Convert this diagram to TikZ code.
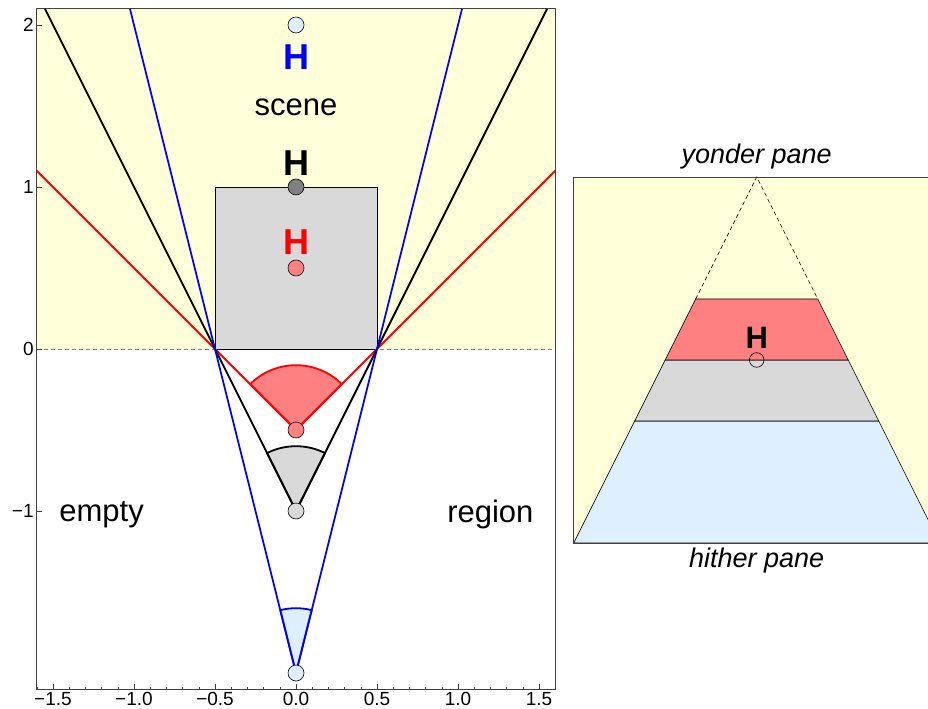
\documentclass[tikz,border=0pt]{standalone}
\usepackage{fontspec}
\setmainfont{Liberation Sans}
\definecolor{paleyellow}{rgb}{1,1,0.85}
\definecolor{palegray}{gray}{0.85}
\definecolor{paleblue}{rgb}{0.87,0.94,1}
\definecolor{palered}{rgb}{1,0.5,0.5}
\tikzset{
  ray/.style={line width=1.8pt,line join=miter},
  edge/.style={line width=0.6pt},
  dot/.style={circle,draw,line width=0.6pt,inner sep=0pt,minimum size=16pt},
  lab/.style={font=\fontsize{31}{36}\selectfont},
  hlab/.style={font=\fontsize{36}{40}\selectfont\bfseries},
  pane/.style={font=\fontsize{27}{32}\selectfont\itshape},
  ticklab/.style={font=\fontsize{19}{22}\selectfont,inner sep=3pt}
}
\begin{document}
\begin{tikzpicture}[x=162pt,y=162pt]
\useasboundingbox (-1.8272,-2.2222) rectangle (3.9012,2.1543);
\begin{scope}
\clip (-1.6,-2.1) rectangle (1.6,2.1);
\fill[paleyellow] (-1.6,0) rectangle (1.6,2.1);
\draw[gray,dash pattern=on 4pt off 3pt,edge] (-1.6,0) -- (1.6,0);
\draw[edge,fill=palegray] (-0.5,0) rectangle (0.5,1);
\filldraw[ray,fill=palered,draw=red] (0,-0.5) -- ++(45:0.4) arc[start angle=45,end angle=135,radius=0.4] -- cycle;
\filldraw[ray,fill=palegray,draw=black] (0,-1) -- ++(63.43:0.4) arc[start angle=63.43,end angle=116.57,radius=0.4] -- cycle;
\filldraw[ray,fill=paleblue,draw=blue] (0,-2) -- ++(75.96:0.4) arc[start angle=75.96,end angle=104.04,radius=0.4] -- cycle;
\draw[ray,red] (-1.6,1.1) -- (0,-0.5) -- (1.6,1.1);
\draw[ray,black] (-1.55,2.1) -- (0,-1) -- (1.55,2.1);
\draw[ray,blue] (-1.025,2.1) -- (0,-2) -- (1.025,2.1);
\end{scope}
\foreach \y/\c/\n in {2/paleblue/a,1/gray/b,0.5/palered/c,-0.5/palered/d,-1/palegray/e,-2/paleblue/f}
  \node[dot,fill=\c] (eye\n) at (0,\y) {};
\node[hlab,blue] (Hblue) at (0,1.8) {H};
\node[lab] (scene) at (0,1.49) {scene};
\node[hlab] (Hblack) at (0,1.15) {H};
\node[hlab,red] (Hred) at (0,0.66) {H};
\node[lab] (empty) at (-1.2,-1.02) {empty};
\node[lab] (region) at (1.2,-1.02) {region};
\draw[black!75,line width=0.8pt] (-1.6,-2.1) rectangle (1.6,2.1);
\foreach \x in {-1.6,-1.5,...,1.6}
  \draw[black!75,edge] (\x,-2.1) -- ++(0,0.016);
\foreach \x/\t/\n in {-1.5/−1.5/a,-1/−1.0/b,-0.5/−0.5/c,0/0.0/d,0.5/0.5/e,1/1.0/f,1.5/1.5/g} {
  \draw[black!75,edge] (\x,-2.1) -- ++(0,0.03);
  \node[ticklab,anchor=north] (xt\n) at (\x,-2.1) {\t};
}
\foreach \y/\t/\n in {2/2/a,1/1/b,0/0/c,-1/−1/d} {
  \draw[black!75,edge] (-1.6,\y) -- ++(0.03,0);
  \node[ticklab,anchor=east] (yt\n) at (-1.6,\y) {\t};
}
\begin{scope}[shift={(460.7pt,172pt)},x=61pt,y=61pt]
\begin{scope}
\clip (-3.05,0.1) rectangle (2.808,-6.1);
\fill[paleyellow] (-3,0) rectangle (3,-6);
\draw[edge,fill=paleblue] (-2,-4) -- (2,-4) -- (3,-6) -- (-3,-6) -- cycle;
\draw[edge,fill=palegray] (-1.5,-3) -- (1.5,-3) -- (2,-4) -- (-2,-4) -- cycle;
\draw[edge,fill=palered] (-1,-2) -- (1,-2) -- (1.5,-3) -- (-1.5,-3) -- cycle;
\draw[dash pattern=on 4pt off 3pt,edge] (-1,-2) -- (0,0) -- (1,-2);
\draw[black!75,line width=0.8pt] (3,0) -- (-3,0) -- (-3,-6) -- (3,-6);
\end{scope}
\node[font=\fontsize{31}{36}\selectfont\bfseries] (Hpane) at (0,-2.64) {H};
\node[dot,minimum size=14.6pt] (hole) at (0,-3) {};
\node[pane] (yonder) at (0,0.33) {yonder pane};
\node[pane] (hither) at (0,-6.28) {hither pane};
\end{scope}
\end{tikzpicture}
\end{document}
